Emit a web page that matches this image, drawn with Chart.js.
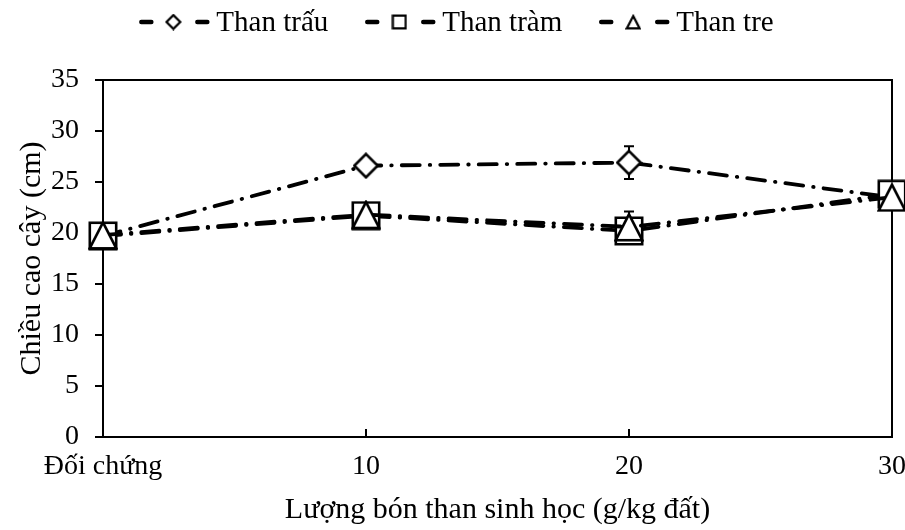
<!DOCTYPE html>
<html>
<head>
<meta charset="utf-8">
<script src="https://cdn.jsdelivr.net/npm/chart.js@4.4.1/dist/chart.umd.min.js"></script>
<style>
  html, body { margin: 0; padding: 0; background: #fff; }
  #wrap { width: 905px; height: 530px; }
</style>
</head>
<body>
<div id="wrap"><canvas id="chart"></canvas></div>
<script>
// data
const categories = ['Đối chứng', '10', '20', '30'];
const seriesNames = ['Than trấu', 'Than tràm', 'Than tre'];
const thanTrau = [19.7, 26.6, 26.9, 23.5];
const thanTram = [19.7, 21.7, 20.2, 23.8];
const thanTre = [19.8, 21.8, 20.6, 23.5];
const errTrau = [0.4, 0.5, 1.6, 0.6];
const errTram = [0.5, 0.6, 0.9, 0.7];
const errTre = [0.5, 0.6, 1.5, 0.7];
const yMin = 0, yMax = 35, yStep = 5;

const FONT = "'Liberation Serif', 'Times New Roman', serif";
const FS = 28;
const LINE_DASH = [18, 10, 0.5, 10];

// marker images (white fill, black outline)
function marker(kind, size) {
    const c = document.createElement('canvas');
    c.width = size; c.height = size;
    const g = c.getContext('2d');
    const m = size / 2;
    g.fillStyle = '#fff';
    g.strokeStyle = '#000';
    g.lineJoin = 'miter';
    g.lineWidth = size > 20 ? 2.6 : 2.2;
    const p = g.lineWidth / 2 + 0.5;
    g.beginPath();
    if (kind === 'diamond') {
        g.moveTo(m, p); g.lineTo(size - p, m); g.lineTo(m, size - p); g.lineTo(p, m);
    } else if (kind === 'square') {
        g.rect(p, p, size - 2 * p, size - 2 * p);
    } else {
        g.moveTo(m, p + 0.5); g.lineTo(size - p, size - p); g.lineTo(p, size - p);
    }
    g.closePath();
    g.fill();
    g.stroke();
    return c;
}

const kinds = ['diamond', 'square', 'triangle'];
const bigSize = [27, 30, 30];
const smallSize = [17, 16, 16];
const values = [thanTrau, thanTram, thanTre];
const errors = [errTrau, errTram, errTre];

const datasets = seriesNames.map((name, i) => ({
    label: name,
    data: values[i],
    borderColor: '#000',
    borderWidth: 3.8,
    borderDash: LINE_DASH,
    borderCapStyle: 'round',
    tension: 0,
    fill: false,
    pointStyle: marker(kinds[i], bigSize[i]),
    pointRadius: 3,
    clip: false,
    order: 2 - i,
    errs: errors[i]
}));

// error bars, drawn under the lines and markers
const errorBars = {
    id: 'errorBars',
    beforeDatasetsDraw(chart) {
        const ctx = chart.ctx;
        const x = chart.scales.x, y = chart.scales.y;
        ctx.save();
        ctx.strokeStyle = '#000';
        ctx.lineWidth = 2;
        chart.data.datasets.forEach(ds => {
            ds.data.forEach((v, j) => {
                const px = x.getPixelForValue(j);
                const top = y.getPixelForValue(v + ds.errs[j]);
                const bot = y.getPixelForValue(v - ds.errs[j]);
                ctx.beginPath();
                ctx.moveTo(px, top); ctx.lineTo(px, bot);
                ctx.moveTo(px - 5, top); ctx.lineTo(px + 5, top);
                ctx.moveTo(px - 5, bot); ctx.lineTo(px + 5, bot);
                ctx.stroke();
            });
        });
        ctx.restore();
    }
};

// frame round the plot and the inward ticks of the x axis
const frame = {
    id: 'frame',
    beforeDatasetsDraw(chart) {
        const ctx = chart.ctx;
        const a = chart.chartArea;
        const x = chart.scales.x;
        ctx.save();
        ctx.strokeStyle = '#000';
        ctx.lineWidth = 2;
        ctx.strokeRect(a.left, a.top, a.right - a.left, a.bottom - a.top);
        ctx.beginPath();
        for (let i = 1; i < categories.length - 1; i++) {
            const px = x.getPixelForTick(i);
            ctx.moveTo(px, a.bottom); ctx.lineTo(px, a.bottom - 8);
        }
        ctx.stroke();
        ctx.restore();
    }
};

// legend: dash, marker, dash, name
const legendLine = {
    id: 'legendLine',
    afterDraw(chart) {
        const ctx = chart.ctx;
        ctx.save();
        ctx.font = '29px ' + FONT;
        const sym = 77, gap = 37;
        const widths = chart.data.datasets.map(ds => ctx.measureText(ds.label).width);
        const total = widths.reduce((s, w) => s + w + sym, 0) + gap * (widths.length - 1);
        let x0 = (chart.width - total) / 2 + 4;
        const cy = 22;
        chart.data.datasets.forEach((ds, i) => {
            ctx.strokeStyle = '#000';
            ctx.lineWidth = 4.5;
            ctx.lineCap = 'round';
            ctx.beginPath();
            ctx.moveTo(x0 + 2, cy); ctx.lineTo(x0 + 12, cy);
            ctx.moveTo(x0 + 58, cy); ctx.lineTo(x0 + 68, cy);
            ctx.stroke();
            const img = marker(kinds[i], smallSize[i]);
            ctx.drawImage(img, x0 + 34 - img.width / 2, cy - img.height / 2);
            ctx.fillStyle = '#000';
            ctx.textBaseline = 'middle';
            ctx.textAlign = 'left';
            ctx.fillText(ds.label, x0 + sym, cy + 1);
            x0 += sym + widths[i] + gap;
        });
        ctx.restore();
    }
};

Chart.defaults.font.family = FONT;
Chart.defaults.font.size = FS;
Chart.defaults.color = '#000';

new Chart(document.getElementById('chart'), {
    type: 'line',
    data: { labels: categories, datasets: datasets },
    options: {
        responsive: true,
        maintainAspectRatio: false,
        animation: false,
        events: [],
        layout: { padding: { top: 80, left: 0, right: 0, bottom: 0 } },
        plugins: {
            legend: { display: false },
            tooltip: { enabled: false }
        },
        scales: {
            x: {
                offset: false,
                border: { display: false },
                grid: { display: false, drawTicks: false },
                ticks: { padding: 13, maxRotation: 0, autoSkip: false },
                title: {
                    display: true,
                    text: 'Lượng bón than sinh học (g/kg đất)',
                    font: { size: 30 },
                    padding: { top: 0, bottom: 2 }
                },
                afterFit(s) {
                    s.height = 93;
                    s.paddingRight = 13;
                }
            },
            y: {
                min: yMin,
                max: yMax,
                border: { display: false },
                grid: {
                    drawOnChartArea: false,
                    drawTicks: true,
                    tickLength: 8,
                    color: '#000',
                    lineWidth: 2
                },
                ticks: { stepSize: yStep, padding: 16 },
                title: {
                    display: true,
                    text: 'Chiều cao cây (cm)',
                    font: { size: 30 },
                    padding: { top: 14, bottom: 0 }
                },
                afterFit(s) { s.width = 103; }
            }
        }
    },
    plugins: [errorBars, frame, legendLine]
});
</script>
</body>
</html>
